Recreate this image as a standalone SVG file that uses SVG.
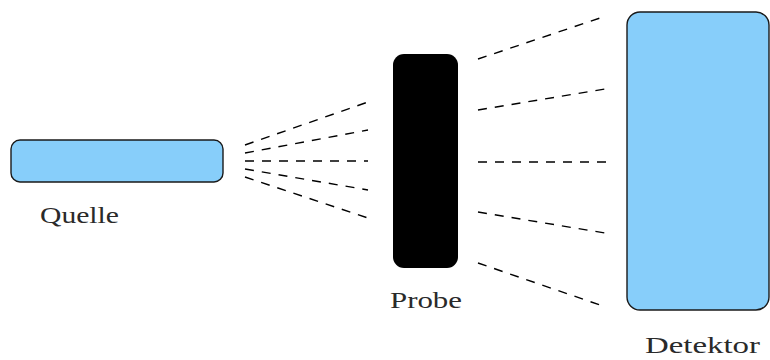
<svg xmlns="http://www.w3.org/2000/svg" width="770" height="360" viewBox="0 0 770 360">
  <style>
    .box { fill: #87cefa; stroke: #1a1a1a; stroke-width: 1.4; }
    .sample { fill: #000000; }
    .ray { stroke: #000000; stroke-width: 1.4; stroke-dasharray: 9 8; fill: none; }
    .label { font-family: "Liberation Serif", "DejaVu Serif", serif; font-size: 24px; fill: #2a2a2a; }
  </style>
  <rect width="770" height="360" fill="#ffffff"/>

  <g id="quelle">
    <rect class="box" x="11" y="140" width="212" height="42" rx="9"/>
    <text class="label" x="40" y="223" textLength="79" lengthAdjust="spacingAndGlyphs">Quelle</text>
  </g>

  <g id="probe">
    <rect class="sample" x="393" y="54" width="65" height="214" rx="11"/>
    <text class="label" x="390" y="308" textLength="72" lengthAdjust="spacingAndGlyphs">Probe</text>
  </g>

  <g id="detektor">
    <rect class="box" x="627" y="12" width="142" height="298" rx="13"/>
    <text class="label" x="645" y="353" textLength="115" lengthAdjust="spacingAndGlyphs">Detektor</text>
  </g>

  <g id="connectors">
    <!-- beam fan from the source -->
    <line class="ray" x1="245" y1="145" x2="368" y2="102"/>
    <line class="ray" x1="245" y1="153" x2="368" y2="130"/>
    <line class="ray" x1="245" y1="161" x2="368" y2="161"/>
    <line class="ray" x1="245" y1="169" x2="368" y2="190"/>
    <line class="ray" x1="245" y1="177" x2="368" y2="218"/>
    <!-- scattered rays towards the detector -->
    <line class="ray" x1="478" y1="59" x2="600" y2="18"/>
    <line class="ray" x1="478" y1="110" x2="605" y2="89"/>
    <line class="ray" x1="478" y1="162" x2="607" y2="162"/>
    <line class="ray" x1="478" y1="212" x2="605" y2="233"/>
    <line class="ray" x1="478" y1="263" x2="600" y2="305"/>
  </g>
</svg>
